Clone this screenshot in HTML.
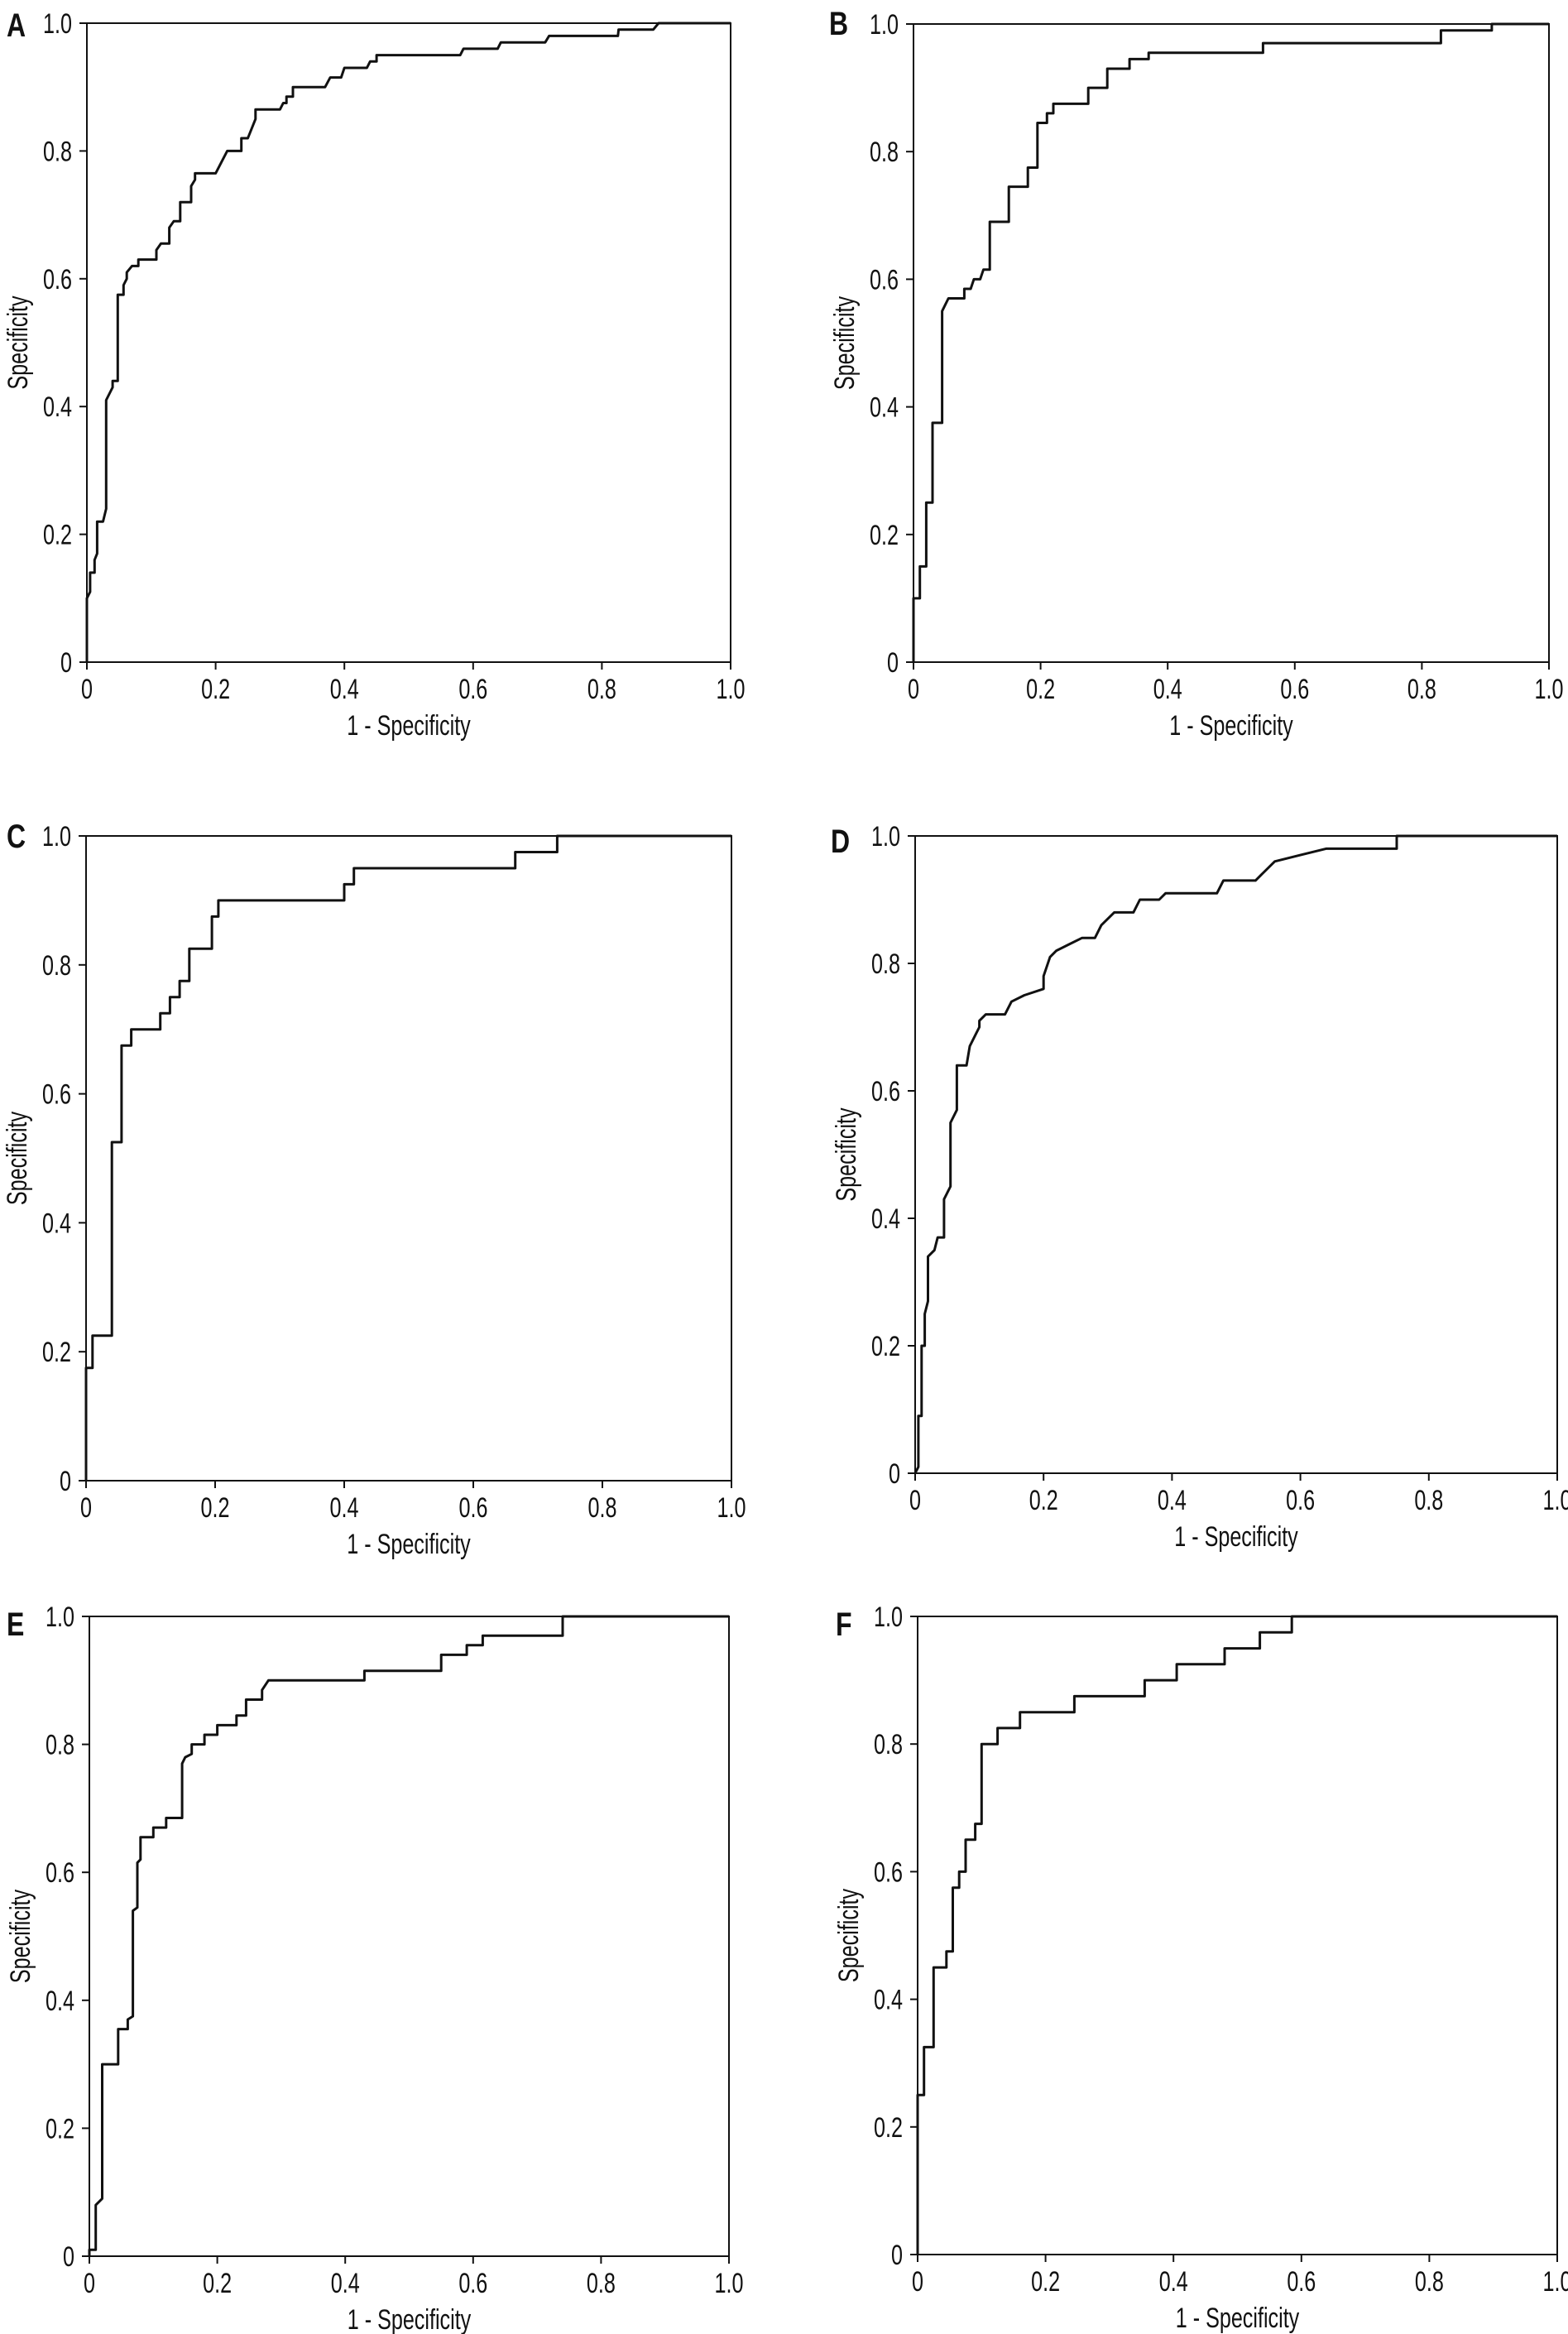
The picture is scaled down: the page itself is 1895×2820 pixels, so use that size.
<!DOCTYPE html>
<html><head><meta charset="utf-8">
<style>
html,body{margin:0;padding:0;background:#fff;}
svg{display:block;}
text{font-family:"Liberation Sans",sans-serif;fill:#111;}
</style></head>
<body>
<svg id="fig" width="1895" height="2820" viewBox="0 0 1895 2820" xmlns="http://www.w3.org/2000/svg"></svg>
<script>
const xTicks=[0,0.2,0.4,0.6,0.8,1.0];
const yTicks=[0,0.2,0.4,0.6,0.8,1.0];
const tickLabels=["0","0.2","0.4","0.6","0.8","1.0"];
const panelLetters=["A","B","C","D","E","F"];
const rocA=[[0,0],[0,0.10],[0.005,0.11],[0.005,0.14],[0.012,0.14],[0.012,0.16],[0.016,0.17],[0.016,0.22],[0.025,0.22],[0.03,0.24],[0.03,0.41],[0.04,0.43],[0.04,0.44],[0.048,0.44],[0.048,0.575],[0.057,0.575],[0.057,0.59],[0.062,0.60],[0.062,0.61],[0.07,0.62],[0.08,0.62],[0.08,0.63],[0.108,0.63],[0.108,0.645],[0.115,0.655],[0.128,0.655],[0.128,0.68],[0.135,0.69],[0.145,0.69],[0.145,0.72],[0.162,0.72],[0.162,0.745],[0.168,0.755],[0.168,0.765],[0.2,0.765],[0.218,0.8],[0.24,0.8],[0.24,0.82],[0.25,0.82],[0.262,0.85],[0.262,0.865],[0.3,0.865],[0.305,0.875],[0.31,0.875],[0.31,0.885],[0.32,0.885],[0.32,0.9],[0.37,0.9],[0.378,0.915],[0.395,0.915],[0.4,0.93],[0.435,0.93],[0.44,0.94],[0.45,0.94],[0.45,0.95],[0.58,0.95],[0.585,0.96],[0.638,0.96],[0.643,0.97],[0.712,0.97],[0.718,0.98],[0.825,0.98],[0.826,0.99],[0.88,0.99],[0.888,1],[1,1]];
const rocB=[[0,0],[0,0.1],[0.01,0.1],[0.01,0.15],[0.02,0.15],[0.02,0.25],[0.03,0.25],[0.03,0.375],[0.045,0.375],[0.045,0.55],[0.05,0.56],[0.055,0.57],[0.08,0.57],[0.08,0.585],[0.09,0.585],[0.095,0.6],[0.105,0.6],[0.11,0.615],[0.12,0.615],[0.12,0.69],[0.15,0.69],[0.15,0.745],[0.18,0.745],[0.18,0.775],[0.195,0.775],[0.195,0.845],[0.21,0.845],[0.21,0.86],[0.22,0.86],[0.22,0.875],[0.275,0.875],[0.275,0.9],[0.305,0.9],[0.305,0.93],[0.34,0.93],[0.34,0.945],[0.37,0.945],[0.37,0.955],[0.55,0.955],[0.55,0.97],[0.83,0.97],[0.83,0.99],[0.91,0.99],[0.91,1],[1,1]];
const rocC=[[0,0],[0,0.175],[0.01,0.175],[0.01,0.225],[0.04,0.225],[0.04,0.525],[0.055,0.525],[0.055,0.675],[0.07,0.675],[0.07,0.7],[0.115,0.7],[0.115,0.725],[0.13,0.725],[0.13,0.75],[0.145,0.75],[0.145,0.775],[0.16,0.775],[0.16,0.825],[0.195,0.825],[0.195,0.875],[0.205,0.875],[0.205,0.9],[0.4,0.9],[0.4,0.925],[0.415,0.925],[0.415,0.95],[0.665,0.95],[0.665,0.975],[0.73,0.975],[0.73,1],[1,1]];
const rocD=[[0,0],[0.005,0.01],[0.005,0.09],[0.01,0.09],[0.01,0.2],[0.015,0.2],[0.015,0.25],[0.02,0.27],[0.02,0.34],[0.03,0.35],[0.035,0.37],[0.045,0.37],[0.045,0.43],[0.055,0.45],[0.055,0.55],[0.065,0.57],[0.065,0.64],[0.08,0.64],[0.085,0.67],[0.095,0.69],[0.1,0.7],[0.1,0.71],[0.11,0.72],[0.14,0.72],[0.15,0.74],[0.17,0.75],[0.2,0.76],[0.2,0.78],[0.21,0.81],[0.22,0.82],[0.24,0.83],[0.26,0.84],[0.28,0.84],[0.29,0.86],[0.31,0.88],[0.34,0.88],[0.35,0.9],[0.38,0.9],[0.39,0.91],[0.47,0.91],[0.48,0.93],[0.53,0.93],[0.54,0.94],[0.56,0.96],[0.6,0.97],[0.64,0.98],[0.75,0.98],[0.75,1],[1,1]];
const rocE=[[0,0],[0,0.01],[0.01,0.01],[0.01,0.08],[0.02,0.09],[0.02,0.3],[0.045,0.3],[0.045,0.355],[0.06,0.355],[0.06,0.37],[0.068,0.375],[0.068,0.54],[0.075,0.545],[0.075,0.615],[0.08,0.62],[0.08,0.655],[0.1,0.655],[0.1,0.67],[0.12,0.67],[0.12,0.685],[0.145,0.685],[0.145,0.77],[0.15,0.78],[0.16,0.785],[0.16,0.8],[0.18,0.8],[0.18,0.815],[0.2,0.815],[0.2,0.83],[0.23,0.83],[0.23,0.845],[0.245,0.845],[0.245,0.87],[0.27,0.87],[0.27,0.885],[0.28,0.9],[0.43,0.9],[0.43,0.915],[0.55,0.915],[0.55,0.94],[0.59,0.94],[0.59,0.955],[0.615,0.955],[0.615,0.97],[0.74,0.97],[0.74,1],[1,1]];
const rocF=[[0,0],[0,0.25],[0.01,0.25],[0.01,0.325],[0.025,0.325],[0.025,0.45],[0.045,0.45],[0.045,0.475],[0.055,0.475],[0.055,0.575],[0.065,0.575],[0.065,0.6],[0.075,0.6],[0.075,0.65],[0.09,0.65],[0.09,0.675],[0.1,0.675],[0.1,0.8],[0.125,0.8],[0.125,0.825],[0.16,0.825],[0.16,0.85],[0.245,0.85],[0.245,0.875],[0.355,0.875],[0.355,0.9],[0.405,0.9],[0.405,0.925],[0.48,0.925],[0.48,0.95],[0.535,0.95],[0.535,0.975],[0.585,0.975],[0.585,1],[1,1]];
const series=[rocA,rocB,rocC,rocD,rocE,rocF];

const boxes=[[105,28,883,800],[1104,29,1872,800],[104,1010,884,1789],[1106,1010,1882,1780],[108,1953,881,2726],[1109,1953,1882,2724]];
const letterPos=[[8,44],[1002,42],[8,1024],[1004,1030],[8,1976],[1010,1976]];

const NS="http://www.w3.org/2000/svg";
const svg=document.getElementById('fig');
function mk(tag,attrs,parent){const e=document.createElementNS(NS,tag);for(const k in attrs)e.setAttribute(k,attrs[k]);parent.appendChild(e);return e;}
function txt(parent,x,y,s,size,anchor,weight,rot,sc){
  const t=mk('text',{x:0,y:0,'font-size':size,'text-anchor':anchor,'font-weight':weight||'normal',
    transform:`translate(${x},${y})`+(rot?` rotate(${rot})`:'')+` scale(${sc||0.74},1)`},parent);
  t.textContent=s;return t;
}
series.forEach((data,i)=>{
  const [x0,y0,x1,y1]=boxes[i];
  const sx=v=>x0+v*(x1-x0);
  const sy=v=>y1-v*(y1-y0);
  const g=mk('g',{},svg);
  
  
  const frame=mk('rect',{x:x0,y:y0,width:x1-x0,height:y1-y0,fill:'none',stroke:'#111','stroke-width':2},g);
  
  
  xTicks.forEach((v,k)=>{
    const tk=mk('line',{x1:sx(v),x2:sx(v),y1:y1,y2:y1+9,stroke:'#111','stroke-width':2},g);
    
    
    const l=txt(g,sx(v),y1+44,tickLabels[k],34,'middle');
    
    
  });
  yTicks.forEach((v,k)=>{
    const tk=mk('line',{x1:x0-9,x2:x0,y1:sy(v),y2:sy(v),stroke:'#111','stroke-width':2},g);
    
    
    const l=txt(g,x0-18,sy(v)+12,tickLabels[k],34,'end');
    
    
  });
  const xt=txt(g,(x0+x1)/2,y1+88,'1 - Specificity',34,'middle');
  
  
  const yt=txt(g,x0-72,(y0+y1)/2,'Specificity',34,'middle','normal',-90);
  
  
  const lt=txt(svg,letterPos[i][0],letterPos[i][1],panelLetters[i],40,'start','bold',0,0.8);
  
  
  const pts=data.map(p=>sx(p[0]).toFixed(1)+','+sy(p[1]).toFixed(1)).join(' ');
  const pl=mk('polyline',{points:pts,fill:'none',stroke:'#111','stroke-width':3,'stroke-linejoin':'round'},g);
  
  
});
</script>
</body></html>
